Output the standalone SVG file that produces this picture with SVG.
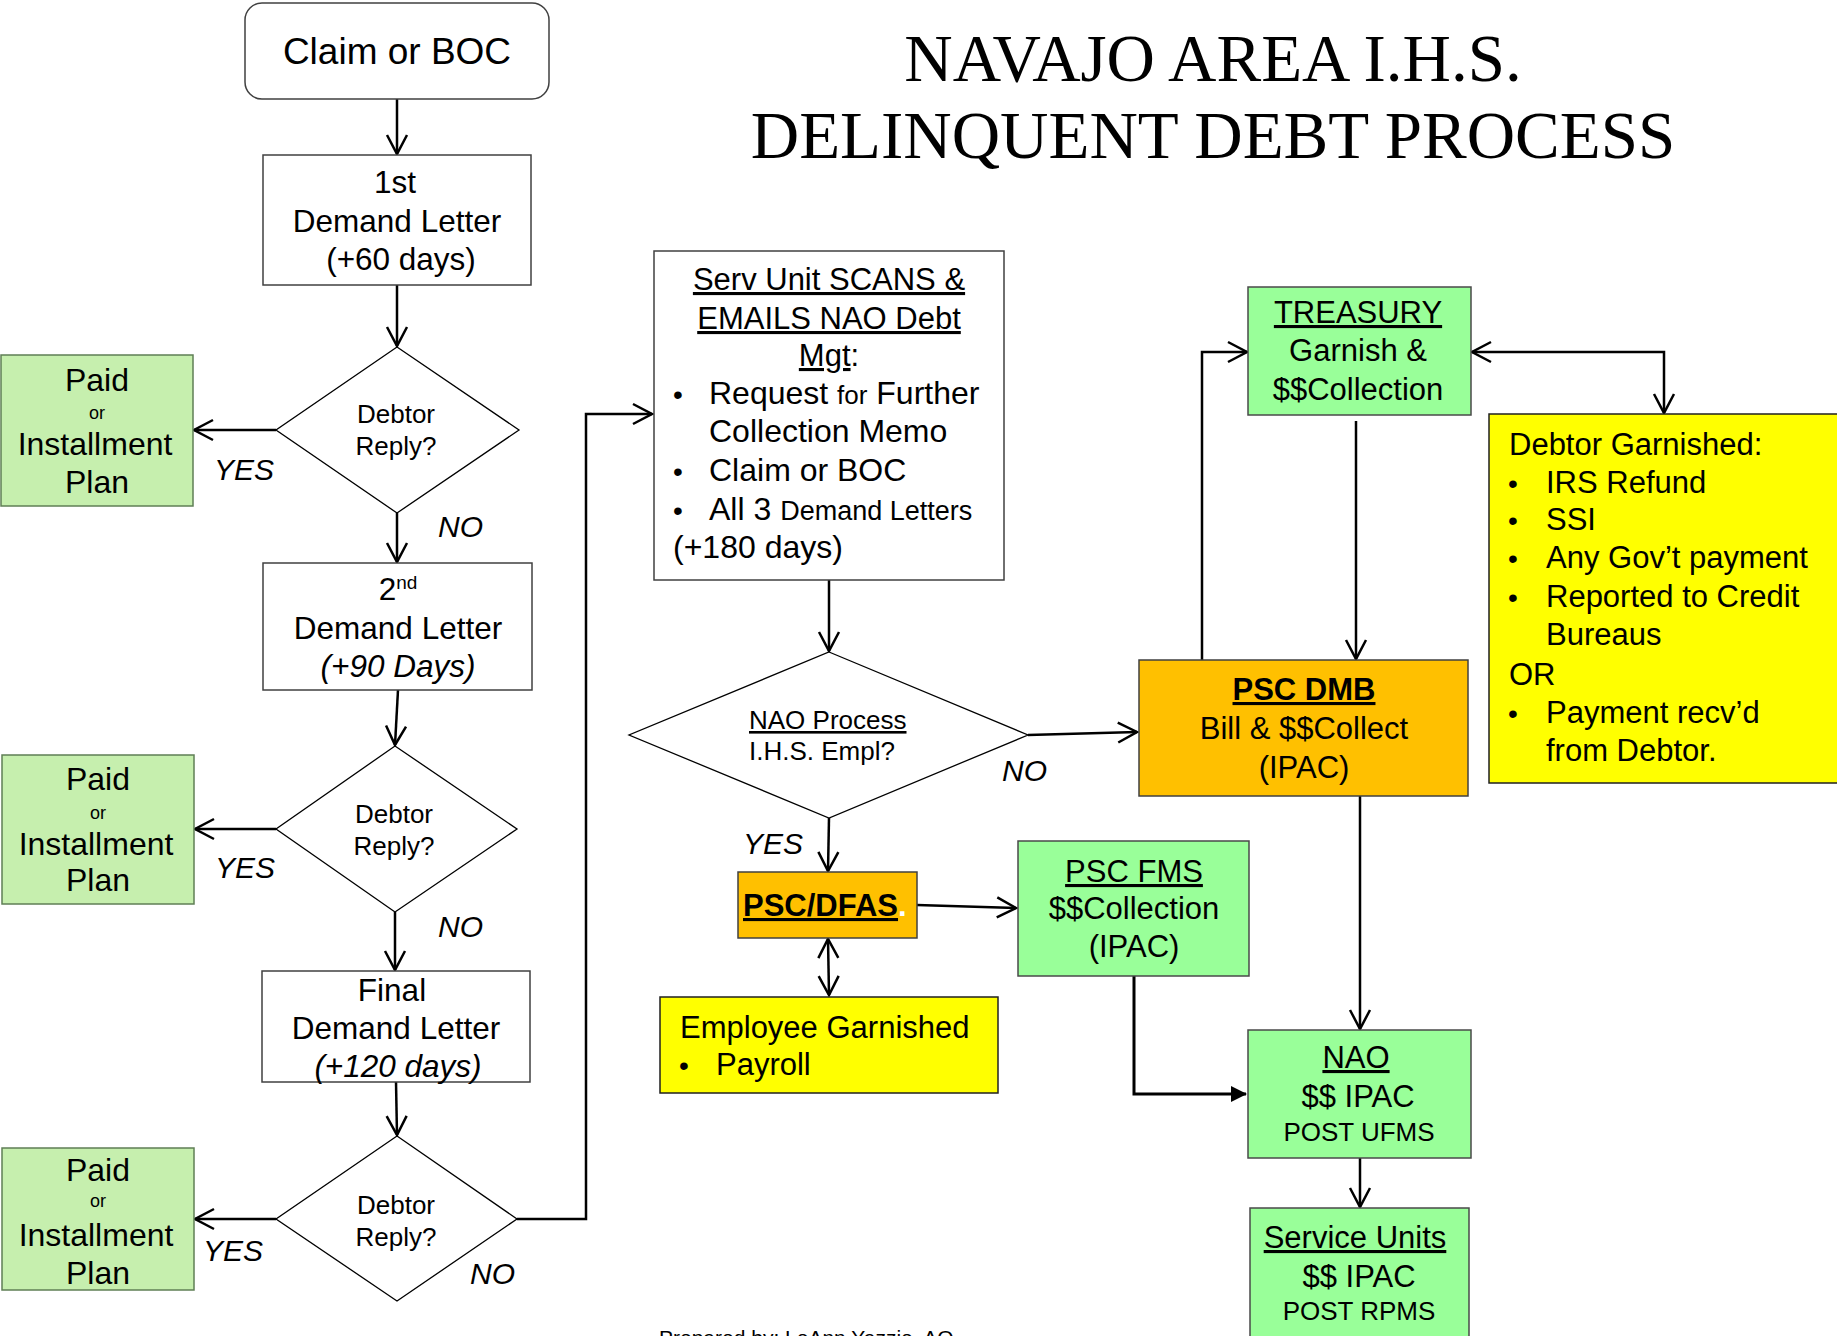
<svg xmlns="http://www.w3.org/2000/svg" width="1837" height="1336" viewBox="0 0 1837 1336">
<style>
text{font-family:"Liberation Sans",Arial,sans-serif;fill:#000}
.t{font-size:31.5px}
.c{text-anchor:middle}
.u{text-decoration:underline}
.b{font-weight:bold}
.i{font-style:italic;font-size:30px}
.dia{fill:#fff;stroke:#000;stroke-width:1.3}
.box{fill:#fff;stroke:#404040;stroke-width:1.5}
.paid{fill:#c6efae;stroke:#5f7f55;stroke-width:1.5}
.grn{fill:#99ff99;stroke:#4a4a4a;stroke-width:1.5}
.org{fill:#ffc000;stroke:#404040;stroke-width:1.5}
.yel{fill:#ffff00;stroke:#202020;stroke-width:1.5}
.ln{fill:none;stroke:#000;stroke-width:2.5}
.title{font-family:"Liberation Serif","Times New Roman",serif;font-size:67px;text-anchor:middle}
</style>
<defs>
<marker id="a" markerUnits="userSpaceOnUse" markerWidth="24" markerHeight="24" refX="19" refY="10" orient="auto-start-reverse" viewBox="-2 -2 24 24">
<path d="M0,0 L19,10 L0,20" fill="none" stroke="#000" stroke-width="2.5"/>
</marker>
<marker id="f" markerUnits="userSpaceOnUse" markerWidth="18" markerHeight="18" refX="15" refY="8" orient="auto" viewBox="0 0 18 18">
<path d="M0,0 L16,8 L0,16 z" fill="#000"/>
</marker>
</defs>

<g id="title">
<text class="title" x="1213" y="81">NAVAJO AREA I.H.S.</text>
<text class="title" x="1213" y="158">DELINQUENT DEBT PROCESS</text>
</g>

<g id="connectors">
<line class="ln" x1="397" y1="99" x2="397" y2="154" marker-end="url(#a)"/>
<line class="ln" x1="397" y1="285" x2="397" y2="346" marker-end="url(#a)"/>
<line class="ln" x1="276" y1="430" x2="194" y2="430" marker-end="url(#a)"/>
<line class="ln" x1="397" y1="513" x2="397" y2="562" marker-end="url(#a)"/>
<line class="ln" x1="398" y1="690" x2="395" y2="745" marker-end="url(#a)"/>
<line class="ln" x1="276" y1="829" x2="195" y2="829" marker-end="url(#a)"/>
<line class="ln" x1="395" y1="912" x2="395" y2="970" marker-end="url(#a)"/>
<line class="ln" x1="396" y1="1082" x2="397" y2="1135" marker-end="url(#a)"/>
<line class="ln" x1="276" y1="1219" x2="195" y2="1219" marker-end="url(#a)"/>
<polyline class="ln" points="517,1219 586,1219 586,414 652,414" marker-end="url(#a)"/>
<line class="ln" x1="829" y1="580" x2="829" y2="651" marker-end="url(#a)"/>
<line class="ln" x1="1028" y1="735" x2="1137" y2="732" marker-end="url(#a)"/>
<line class="ln" x1="829" y1="818" x2="828" y2="871" marker-end="url(#a)"/>
<line class="ln" x1="917" y1="905" x2="1016" y2="908" marker-end="url(#a)"/>
<line class="ln" x1="828" y1="939" x2="829" y2="995" marker-start="url(#a)" marker-end="url(#a)"/>
<polyline class="ln" points="1202,660 1202,352 1247,352" marker-end="url(#a)"/>
<line class="ln" x1="1356" y1="421" x2="1356" y2="659" marker-end="url(#a)"/>
<polyline class="ln" points="1472,352 1664,352 1664,413" marker-start="url(#a)" marker-end="url(#a)"/>
<line class="ln" x1="1360" y1="796" x2="1360" y2="1029" marker-end="url(#a)"/>
<polyline fill="none" stroke="#000" stroke-width="3" points="1134,976 1134,1094 1246,1094" marker-end="url(#f)"/>
<line class="ln" x1="1360" y1="1158" x2="1360" y2="1207" marker-end="url(#a)"/>
</g>

<g id="claim">
<rect class="box" x="245" y="3" width="304" height="96" rx="17"/>
<text class="c" x="397" y="64" font-size="37">Claim or BOC</text>
</g>

<g id="letter1">
<rect class="box" x="263" y="155" width="268" height="130"/>
<text class="t c" x="395" y="193">1st</text>
<text class="t c" x="397" y="232">Demand Letter</text>
<text class="t c" x="401" y="270">(+60 days)</text>
</g>

<g id="reply1">
<polygon class="dia" points="397,347 519,430 397,513 276,430"/>
<text class="c" x="396" y="423" font-size="26">Debtor</text>
<text class="c" x="396" y="455" font-size="26">Reply?</text>
</g>

<g id="paid1">
<rect class="paid" x="1" y="355" width="192" height="151"/>
<text class="c" x="97" y="391" font-size="32">Paid</text>
<text class="c" x="97" y="419" font-size="18">or</text>
<text class="c" x="95" y="455" font-size="32">Installment</text>
<text class="c" x="97" y="493" font-size="32">Plan</text>
</g>
<g id="labels1">
<text class="i" x="214" y="480">YES</text>
<text class="i" x="438" y="537">NO</text>
</g>

<g id="letter2">
<rect class="box" x="263" y="563" width="269" height="127"/>
<text class="t c" x="398" y="600">2<tspan font-size="19" dy="-11">nd</tspan></text>
<text class="t c" x="398" y="639">Demand Letter</text>
<text class="t c" x="398" y="677" font-style="italic">(+90 Days)</text>
</g>

<g id="reply2">
<polygon class="dia" points="395,746 517,829 395,912 276,829"/>
<text class="c" x="394" y="823" font-size="26">Debtor</text>
<text class="c" x="394" y="855" font-size="26">Reply?</text>
</g>

<g id="paid2">
<rect class="paid" x="2" y="755" width="192" height="149"/>
<text class="c" x="98" y="790" font-size="32">Paid</text>
<text class="c" x="98" y="819" font-size="18">or</text>
<text class="c" x="96" y="855" font-size="32">Installment</text>
<text class="c" x="98" y="891" font-size="32">Plan</text>
</g>
<g id="labels2">
<text class="i" x="215" y="878">YES</text>
<text class="i" x="438" y="937">NO</text>
</g>

<g id="letter3">
<rect class="box" x="262" y="971" width="268" height="111"/>
<text class="t c" x="392" y="1001">Final</text>
<text class="t c" x="396" y="1039">Demand Letter</text>
<text class="t c" x="398" y="1077" font-style="italic">(+120 days)</text>
</g>

<g id="reply3">
<polygon class="dia" points="397,1136 517,1219 397,1301 276,1219"/>
<text class="c" x="396" y="1214" font-size="26">Debtor</text>
<text class="c" x="396" y="1246" font-size="26">Reply?</text>
</g>

<g id="paid3">
<rect class="paid" x="2" y="1148" width="192" height="142"/>
<text class="c" x="98" y="1181" font-size="32">Paid</text>
<text class="c" x="98" y="1207" font-size="18">or</text>
<text class="c" x="96" y="1246" font-size="32">Installment</text>
<text class="c" x="98" y="1284" font-size="32">Plan</text>
</g>
<g id="labels3">
<text class="i" x="203" y="1261">YES</text>
<text class="i" x="470" y="1284">NO</text>
</g>

<g id="servunit">
<rect class="box" x="654" y="251" width="350" height="329"/>
<text class="c u" x="829" y="290" font-size="31">Serv Unit SCANS &amp;</text>
<text class="c u" x="829" y="329" font-size="31">EMAILS NAO Debt</text>
<text class="c" x="829" y="366" font-size="31"><tspan class="u">Mgt</tspan>:</text>
<text class="c" x="678" y="404" font-size="28">•</text>
<text x="709" y="404" font-size="32">Request <tspan font-size="26">for</tspan> Further</text>
<text x="709" y="442" font-size="32">Collection Memo</text>
<text class="c" x="678" y="481" font-size="28">•</text>
<text x="709" y="481" font-size="32">Claim or BOC</text>
<text class="c" x="678" y="520" font-size="28">•</text>
<text x="709" y="520" font-size="32">All 3 <tspan font-size="27">Demand Letters</tspan></text>
<text x="673" y="558" font-size="32">(+180 days)</text>
</g>

<g id="naoprocess">
<polygon class="dia" points="829,652 1028,735 829,818 629,735"/>
<text class="u" x="749" y="729" font-size="26">NAO Process</text>
<text x="749" y="760" font-size="26">I.H.S. Empl?</text>
</g>
<g id="labels4">
<text class="i" x="1002" y="781">NO</text>
<text class="i" x="743" y="854">YES</text>
</g>

<g id="pscdfas">
<rect class="org" x="738" y="872" width="179" height="66"/>
<text x="743" y="916" font-size="31" class="b"><tspan class="u">PSC/DFAS</tspan><tspan fill="#fff">.</tspan></text>
</g>

<g id="employee">
<rect class="yel" x="660" y="997" width="338" height="96"/>
<text x="680" y="1038" font-size="31">Employee Garnished</text>
<text class="c" x="684" y="1075" font-size="28">•</text>
<text x="716" y="1075" font-size="31">Payroll</text>
</g>

<g id="pscfms">
<rect class="grn" x="1018" y="841" width="231" height="135"/>
<text class="c u" x="1134" y="882" font-size="31">PSC FMS</text>
<text class="c" x="1134" y="919" font-size="31">$$Collection</text>
<text class="c" x="1134" y="957" font-size="31">(IPAC)</text>
</g>

<g id="treasury">
<rect class="grn" x="1248" y="287" width="223" height="128"/>
<text class="c u" x="1358" y="323" font-size="31">TREASURY</text>
<text class="c" x="1358" y="361" font-size="31">Garnish &amp;</text>
<text class="c" x="1358" y="400" font-size="31">$$Collection</text>
</g>

<g id="pscdmb">
<rect class="org" x="1139" y="660" width="329" height="136"/>
<text class="c u b" x="1304" y="700" font-size="31">PSC DMB</text>
<text class="c" x="1304" y="739" font-size="31">Bill &amp; $$Collect</text>
<text class="c" x="1304" y="778" font-size="31">(IPAC)</text>
</g>

<g id="debtorgarnished">
<rect class="yel" x="1489" y="414" width="360" height="369"/>
<text x="1509" y="455" font-size="31">Debtor Garnished:</text>
<text class="c" x="1513" y="493" font-size="28">•</text>
<text x="1546" y="493" font-size="31">IRS Refund</text>
<text class="c" x="1513" y="530" font-size="28">•</text>
<text x="1546" y="530" font-size="31">SSI</text>
<text class="c" x="1513" y="568" font-size="28">•</text>
<text x="1546" y="568" font-size="31">Any Gov’t payment</text>
<text class="c" x="1513" y="607" font-size="28">•</text>
<text x="1546" y="607" font-size="31">Reported to Credit</text>
<text x="1546" y="645" font-size="31">Bureaus</text>
<text x="1509" y="685" font-size="31">OR</text>
<text class="c" x="1513" y="723" font-size="28">•</text>
<text x="1546" y="723" font-size="31">Payment recv’d</text>
<text x="1546" y="761" font-size="31">from Debtor.</text>
</g>

<g id="nao">
<rect class="grn" x="1248" y="1030" width="223" height="128"/>
<text class="c u" x="1356" y="1068" font-size="31">NAO</text>
<text class="c" x="1358" y="1107" font-size="31">$$ IPAC</text>
<text class="c" x="1359" y="1141" font-size="26">POST UFMS</text>
</g>

<g id="serviceunits">
<rect class="grn" x="1250" y="1208" width="219" height="140"/>
<text class="c u" x="1355" y="1248" font-size="31">Service Units</text>
<text class="c" x="1359" y="1287" font-size="31">$$ IPAC</text>
<text class="c" x="1359" y="1320" font-size="26">POST RPMS</text>
</g>

<g id="footer">
<text x="659" y="1345" font-size="21">Prepared by: LeAnn Yazzie, AO</text>
</g>
</svg>
